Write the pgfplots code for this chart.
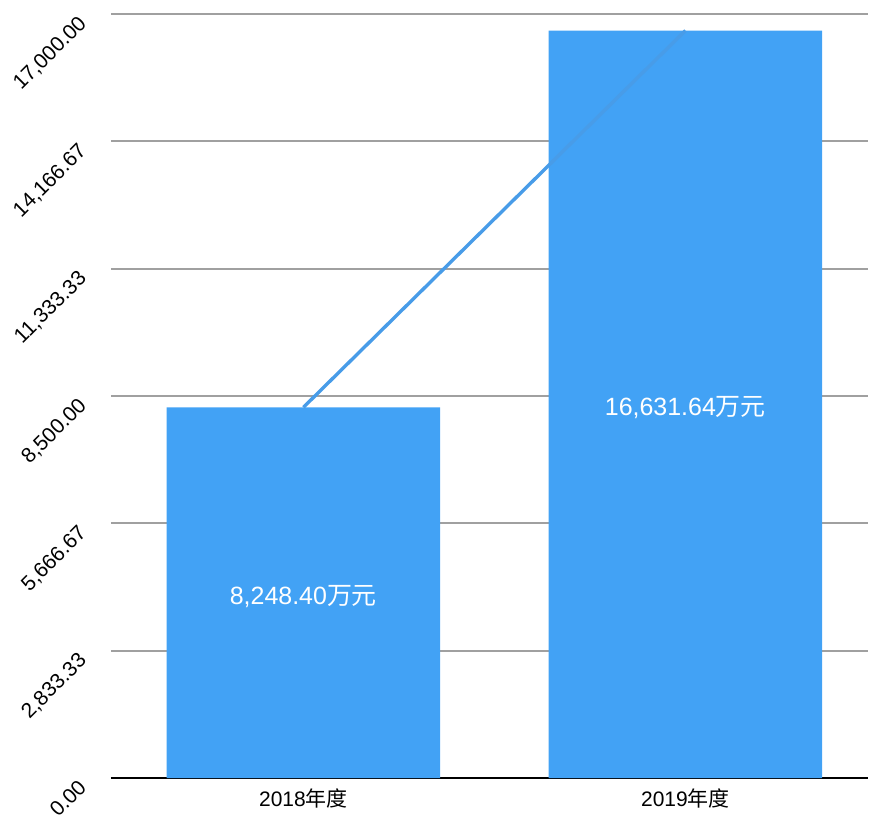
\documentclass[border=0pt]{standalone}
\usepackage{fontspec}
\setmainfont{Liberation Sans}
\newfontfamily\cjk{Noto Sans CJK SC}
\usepackage{pgfplots}
\pgfplotsset{compat=1.18}
\definecolor{barblue}{RGB}{66,162,245}
\definecolor{lineblue}{RGB}{72,156,232}
\definecolor{gridgray}{RGB}{160,160,160}
\begin{document}
\begin{tikzpicture}
\begin{axis}[
  scale only axis,
  width=379pt, height=382.5pt,
  xmin=-0.504, xmax=1.478,
  ymin=0, ymax=17000,
  axis x line*=bottom,
  axis y line*=left,
  x axis line style={black, line width=1pt},
  y axis line style={draw=none},
  xtick={0,1},
  xticklabels={{2018\cjk 年度},{2019\cjk 年度}},
  x tick label style={font=\fontsize{10.5}{12}\selectfont, yshift=-2pt},
  major tick length=0pt,
  ytick={0,2833.333,5666.667,8500,11333.333,14166.667,17000},
  ymajorgrids,
  grid style={gridgray, line width=1pt},
  yticklabel style={rotate=45, anchor=north east, font=\fontsize{10.5}{12}\selectfont, inner sep=0pt},
  yticklabel shift=17pt,
  y tick label style={/pgf/number format/.cd, fixed, fixed zerofill, precision=2, 1000 sep={,}, assume math mode=true},
  scaled y ticks=false,
  clip=false,
]
\addplot[ybar, bar width=137pt, fill=barblue, draw=none] coordinates {(0,8248.40) (1,16631.64)};
\addplot[lineblue, line width=1.7pt] coordinates {(0,8248.40) (1,16631.64)};
\node[white, font=\fontsize{12.5}{14}\selectfont] at (axis cs:0,4050) {8,248.40\cjk 万元};
\node[white, font=\fontsize{12.5}{14}\selectfont] at (axis cs:1,8240) {16,631.64\cjk 万元};
\end{axis}
\path (current axis.south west) ++(-55.5pt,-18.5pt);
\path (current axis.north east) ++(0,7pt);
\end{tikzpicture}
\end{document}
